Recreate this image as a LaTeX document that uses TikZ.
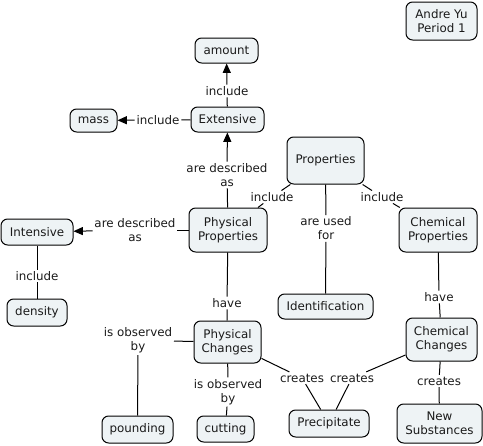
\documentclass[tikz,border=0pt]{standalone}
\usepackage{fontspec}
\setmainfont{DejaVu Sans}
\usetikzlibrary{arrows.meta}
\definecolor{boxfill}{HTML}{EEF3F5}
\definecolor{txt}{HTML}{1A1A1A}
\begin{document}
\begin{tikzpicture}[x=0.75pt,y=-0.75pt,
  font=\fontsize{8.9}{10.5}\selectfont, text=txt,
  box/.style={draw=black, fill=boxfill, rounded corners=5pt, line width=0.75pt, align=center, inner sep=0pt},
  sz/.style 2 args={minimum width=#1*0.75pt, minimum height=#2*0.75pt},
  lbl/.style={align=center, inner sep=1.2pt},
  conn/.style={draw=black, line width=0.75pt},
  arr/.style={-{Triangle[length=7pt,width=6pt]}}]
\useasboundingbox (0,0) rectangle (483,446);
% concepts
\node[box, sz={71}{38}] (andre) at (441.5,21) {Andre Yu\\Period 1};
\node[box, sz={63}{25}] (amount) at (226.5,50.5) {amount};
\node[box, sz={47}{23}] (mass) at (93.5,120.5) {mass};
\node[box, sz={73}{25}] (extensive) at (227.5,119.5) {Extensive};
\node[box, sz={77}{47}] (properties) at (325.5,160.5) {Properties};
\node[box, sz={78}{44}] (physprop) at (228,230) {Physical\\Properties};
\node[box, sz={72}{26}] (intensive) at (37,232) {Intensive};
\node[box, sz={78}{44}] (chemprop) at (438,230) {Chemical\\Properties};
\node[box, sz={60}{27}] (density) at (37,312.5) {density};
\node[box, sz={95}{25}] (ident) at (325.5,306.5) {Identification};
\node[box, sz={67}{42}] (physch) at (227.5,342) {Physical\\Changes};
\node[box, sz={71}{43}] (chemch) at (441.5,339.5) {Chemical\\Changes};
\node[box, sz={71}{27}] (pounding) at (137.5,429.5) {pounding};
\node[box, sz={57}{26}] (cutting) at (225.5,429) {cutting};
\node[box, sz={80}{27}] (precip) at (329,423.5) {Precipitate};
\node[box, sz={85}{39}] (newsub) at (439.5,423.5) {New\\Substances};
% linking phrases
\node[lbl] (inc1) at (227,91) {include};
\node[lbl] (inc2) at (158,120) {include};
\node[lbl] (desc1) at (227,175) {are described\\as};
\node[lbl] (desc2) at (135,230) {are described\\as};
\node[lbl] (inc3) at (272,197) {include};
\node[lbl] (inc4) at (382,197) {include};
\node[lbl] (used) at (326,228.5) {are used\\for};
\node[lbl] (inc5) at (37,276) {include};
\node[lbl] (have1) at (227,303) {have};
\node[lbl] (have2) at (439,297) {have};
\node[lbl] (obs1) at (138,340.5) {is observed\\by};
\node[lbl] (obs2) at (228,392) {is observed\\by};
\node[lbl] (cr1) at (302,378) {creates};
\node[lbl] (cr2) at (352,378) {creates};
\node[lbl] (cr3) at (439,381) {creates};
% connectors
\draw[conn] (extensive) -- (inc1);
\draw[conn,arr] (inc1) -- (amount);
\draw[conn] (extensive) -- (inc2);
\draw[conn,arr] (inc2) -- (mass);
\draw[conn] (physprop) -- (desc1);
\draw[conn,arr] (desc1) -- (extensive);
\draw[conn] (physprop) -- (desc2);
\draw[conn,arr] (desc2) -- (intensive);
\draw[conn] (properties) -- (inc3);
\draw[conn] (inc3) -- (physprop);
\draw[conn] (properties) -- (inc4);
\draw[conn] (inc4) -- (chemprop);
\draw[conn] (properties) -- (used);
\draw[conn] (used) -- (ident);
\draw[conn] (intensive) -- (inc5);
\draw[conn] (inc5) -- (density);
\draw[conn] (physprop) -- (have1);
\draw[conn] (have1) -- (physch);
\draw[conn] (chemprop) -- (have2);
\draw[conn] (have2) -- (chemch);
\draw[conn] (physch) -- (obs1);
\draw[conn] (obs1) -- (pounding);
\draw[conn] (physch) -- (obs2);
\draw[conn] (obs2) -- (cutting);
\draw[conn] (physch) -- (cr1);
\draw[conn] (cr1) -- (precip);
\draw[conn] (chemch) -- (cr2);
\draw[conn] (cr2) -- (precip);
\draw[conn] (chemch) -- (cr3);
\draw[conn] (cr3) -- (newsub);
\end{tikzpicture}
\end{document}
